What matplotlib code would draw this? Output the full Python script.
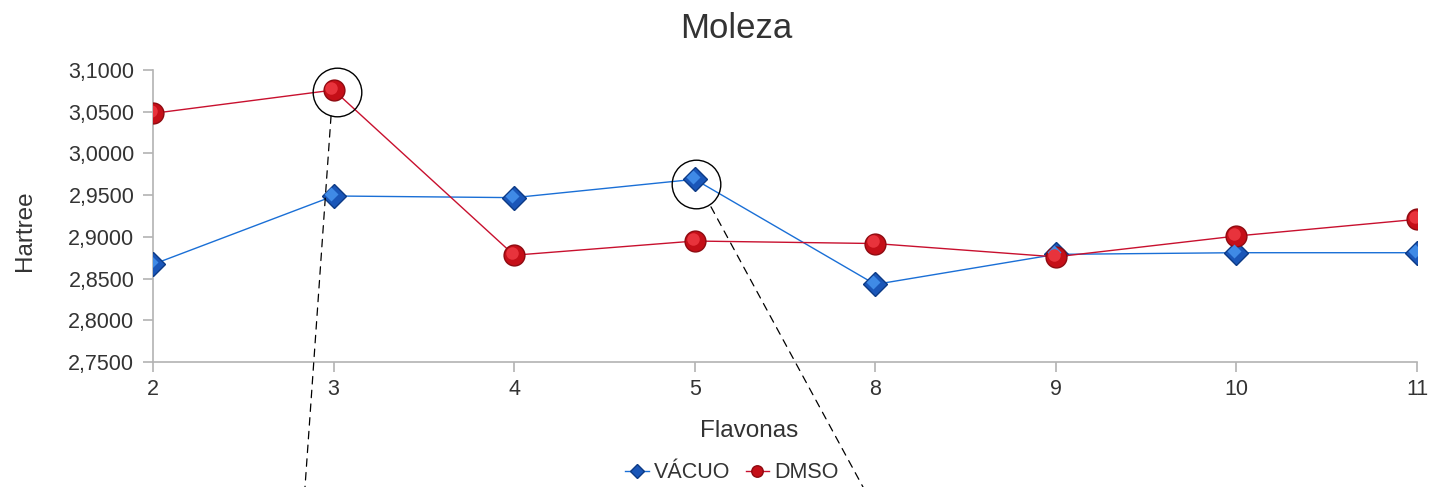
import matplotlib
matplotlib.use("Agg")
from matplotlib import pyplot as plt
from matplotlib.ticker import FuncFormatter
from matplotlib.transforms import ScaledTranslation

# data
flavonas = ['2', '3', '4', '5', '8', '9', '10', '11']
vacuo = [2.867, 2.949, 2.947, 2.969, 2.843, 2.879, 2.881, 2.881]
dmso = [3.048, 3.076, 2.878, 2.895, 2.892, 2.876, 2.901, 2.921]
yticks = [2.75, 2.80, 2.85, 2.90, 2.95, 3.00, 3.05, 3.10]

txt = '#333333'
axc = '#b3b3b3'
blue = '#1a6fd6'
red = '#c8102e'

plt.rcParams['font.family'] = ['Liberation Sans', 'DejaVu Sans']

fig = plt.figure(figsize=(14.3, 4.87), dpi=100)
ax = fig.add_axes([153/1430, 1 - 362/487, (1417-153)/1430, (362-70)/487])

x = list(range(len(flavonas)))
ax.plot(x, vacuo, color=blue, lw=1.0, marker='D', markersize=12.5,
        markerfacecolor='#1a56b8', markeredgecolor='#0c3a85', markeredgewidth=1.0,
        label='VÁCUO', zorder=3)
ax.plot(x, dmso, color=red, lw=1.0, marker='o', markersize=15,
        markerfacecolor='#c50f18', markeredgecolor='#8e0a10', markeredgewidth=1.0,
        label='DMSO', zorder=3)

# shading on the markers (lighter upper-left part)
up = ax.transData + ScaledTranslation(-1.5/72, 1.5/72, fig.dpi_scale_trans)
ax.plot(x, vacuo, ls='none', marker='D', markersize=7, mfc='#3f8ae6', mec='none',
        transform=up, zorder=3.5)
ax.plot(x, dmso, ls='none', marker='o', markersize=9, mfc='#e8333c', mec='none',
        transform=up, zorder=3.5)

# highlighted points
i1 = flavonas.index('3')
i2 = flavonas.index('5')
ax.plot([i1 + 0.02], [dmso[i1] - 0.002], marker='o', markersize=35, mfc='none',
        mec='black', mew=1.0, clip_on=False, zorder=4)
ax.plot([i2 + 0.005], [vacuo[i2] - 0.006], marker='o', markersize=35, mfc='none',
        mec='black', mew=1.0, clip_on=False, zorder=4)

ax.annotate('', xy=(305/1430, 0), xycoords='figure fraction',
            xytext=(i1 - 0.014, dmso[i1] - 0.031), textcoords='data',
            arrowprops=dict(arrowstyle='-', linestyle=(0, (6, 5)), color='black',
                            lw=0.9, shrinkA=0, shrinkB=0))
ax.annotate('', xy=(863/1430, 0), xycoords='figure fraction',
            xytext=(i2 + 0.09, vacuo[i2] - 0.033), textcoords='data',
            arrowprops=dict(arrowstyle='-', linestyle=(0, (6, 5)), color='black',
                            lw=0.9, shrinkA=0, shrinkB=0))

ax.set_xlim(0, len(flavonas) - 1)
ax.set_ylim(2.75, 3.10)
ax.set_xticks(x)
ax.set_xticklabels(flavonas)
ax.set_yticks(yticks)
ax.yaxis.set_major_formatter(FuncFormatter(lambda v, p: f'{v:.4f}'.replace('.', ',')))

for s in ['top', 'right']:
    ax.spines[s].set_visible(False)
for s in ['left', 'bottom']:
    ax.spines[s].set_color(axc)
    ax.spines[s].set_linewidth(1.2)
ax.tick_params(axis='both', colors=axc, length=7.5, width=1.2, labelsize=15.5,
               labelcolor=txt)
ax.tick_params(axis='y', pad=6)
ax.tick_params(axis='x', pad=5)

fig.text(736/1430, 1 - 28/487, 'Moleza', ha='center', va='center', fontsize=25, color=txt)
fig.text(749/1430, 1 - 431/487, 'Flavonas', ha='center', va='center', fontsize=17.5, color=txt)
fig.text(25/1430, 1 - 231/487, 'Hartree', ha='center', va='center', rotation=90,
         fontsize=17.5, color=txt)

leg = fig.legend(loc='center', bbox_to_anchor=(732/1430, 1 - 473/487), ncol=2,
                 frameon=False, fontsize=15.5, handlelength=1.1, handletextpad=0.25,
                 columnspacing=0.7, markerscale=0.55, borderpad=0)
for t in leg.get_texts():
    t.set_color(txt)

fig.savefig('out.png', dpi=100)
